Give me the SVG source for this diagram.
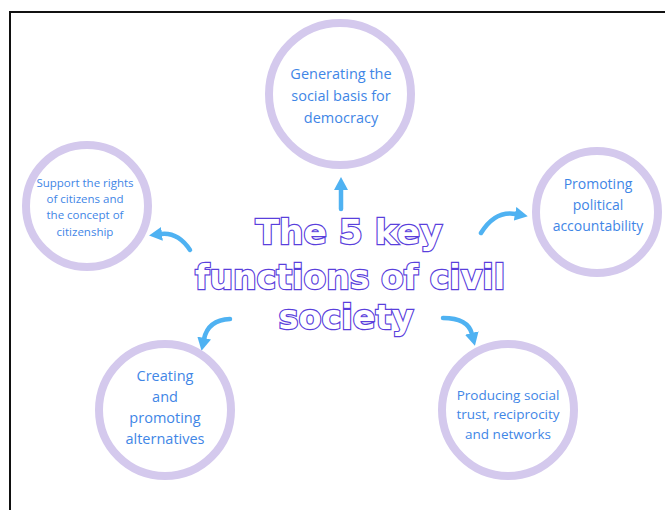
<svg xmlns="http://www.w3.org/2000/svg" width="665" height="510" viewBox="0 0 665 510">
<style>
.ring{fill:#ffffff;stroke:#d4c9ed;stroke-width:8}
.lbl{font-family:"Open Sans","Noto Sans",sans-serif;fill:#3f86e6;text-anchor:middle}
.title{font-family:"DejaVu Sans",sans-serif;font-weight:bold;fill:#ffffff;stroke:#5a3fdc;stroke-width:2.4;text-anchor:middle;paint-order:stroke}
.arr{fill:none;stroke:#4fb2f2;stroke-width:4.5;stroke-linecap:round;marker-end:url(#head)}
</style>
<defs>
<marker id="head" viewBox="0 -7 13 14" refX="1" refY="0" markerWidth="13" markerHeight="14" markerUnits="userSpaceOnUse" orient="auto">
<path d="M0,-7 L13,0 L0,7 z" fill="#4fb2f2"/>
</marker>
</defs>
<rect x="0" y="0" width="665" height="510" fill="#ffffff"/>
<rect x="10" y="12" width="660" height="510" fill="none" stroke="#111111" stroke-width="2"/>
<g id="connectors">
<path class="arr" d="M341,209 L341,189"/>
<path class="arr" d="M190,250 Q178,232 161,234"/>
<path class="arr" d="M481,233 Q495,210 516,214"/>
<path class="arr" d="M230,319 Q208,320 204,339"/>
<path class="arr" d="M443,318 Q468,318 472,334"/>
</g>
<g id="node-top">
<circle class="ring" cx="340" cy="94" r="71"/>
<text class="lbl" font-size="14.5" x="341" y="79">Generating the</text>
<text class="lbl" font-size="14.5" x="341" y="101">social basis for</text>
<text class="lbl" font-size="14.5" x="341" y="123">democracy</text>
</g>
<g id="node-left">
<circle class="ring" cx="87" cy="206" r="61"/>
<text class="lbl" font-size="11.5" x="85" y="187">Support the rights</text>
<text class="lbl" font-size="11.5" x="85" y="203">of citizens and</text>
<text class="lbl" font-size="11.5" x="85" y="219">the concept of</text>
<text class="lbl" font-size="11.5" x="85" y="236">citizenship</text>
</g>
<g id="node-right">
<circle class="ring" cx="597" cy="212" r="61"/>
<text class="lbl" font-size="14" x="598" y="189">Promoting</text>
<text class="lbl" font-size="14" x="598" y="210">political</text>
<text class="lbl" font-size="14" x="598" y="231">accountability</text>
</g>
<g id="node-bottom-left">
<circle class="ring" cx="165" cy="410" r="66"/>
<text class="lbl" font-size="14.5" x="165" y="381">Creating</text>
<text class="lbl" font-size="14.5" x="165" y="402">and</text>
<text class="lbl" font-size="14.5" x="165" y="423">promoting</text>
<text class="lbl" font-size="14.5" x="165" y="444">alternatives</text>
</g>
<g id="node-bottom-right">
<circle class="ring" cx="508" cy="410" r="66"/>
<text class="lbl" font-size="13.5" x="508" y="400">Producing social</text>
<text class="lbl" font-size="13.5" x="508" y="419">trust, reciprocity</text>
<text class="lbl" font-size="13.5" x="508" y="439">and networks</text>
</g>
<g id="title">
<text class="title" font-size="34" x="349" y="244" textLength="187" lengthAdjust="spacingAndGlyphs">The 5 key</text>
<text class="title" font-size="34" x="350" y="289" textLength="310" lengthAdjust="spacingAndGlyphs">functions of civil</text>
<text class="title" font-size="34" x="346" y="329" textLength="135" lengthAdjust="spacingAndGlyphs">society</text>
</g>
</svg>
